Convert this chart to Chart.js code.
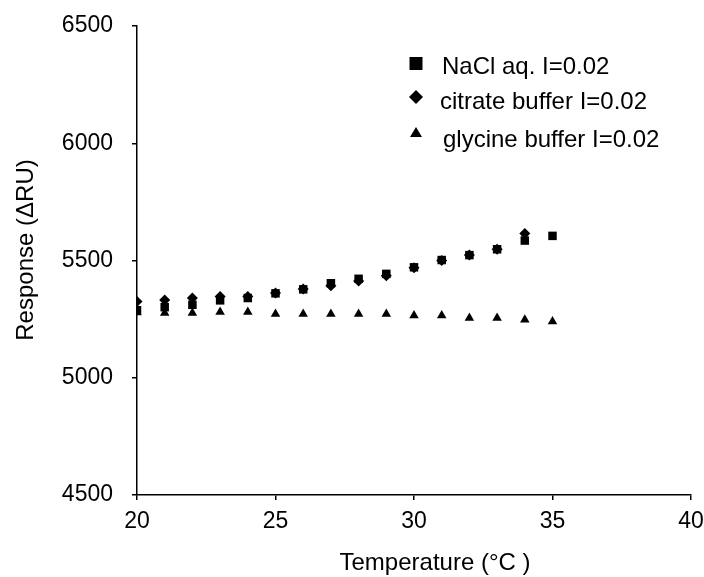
<!DOCTYPE html>
<html>
<head>
<meta charset="utf-8">
<script src="https://cdn.jsdelivr.net/npm/chart.js@4/dist/chart.umd.min.js"></script>
<style>
html,body{margin:0;padding:0;background:#fff;}
#wrap{width:704px;height:577px;position:relative;}
</style>
</head>
<body>
<div id="wrap"><canvas id="c" width="704" height="577"></canvas></div>
<script>
// Data
const temperatures = [20,21,22,23,24,25,26,27,28,29,30,31,32,33,34,35];
const nacl = [5288,5301,5311,5330,5340,5360,5377,5403,5422,5443,5471,5502,5523,5548,5585,5605];
const citrate = [5325,5332,5340,5346,5346,5361,5378,5392,5413,5435,5469,5500,5523,5548,5615];
const glycine = [5278,5276,5276,5280,5280,5272,5272,5272,5272,5272,5265,5265,5255,5255,5247,5240];
const seriesLabels = ['NaCl aq. I=0.02','citrate buffer I=0.02','glycine buffer I=0.02'];
const xTitle = 'Temperature (\u00B0C )';
const yTitle = 'Response (\u0394RU)';

const FONT = '"Liberation Sans", Arial, sans-serif';
const pts = (ys) => ys.map((y,i)=>({x:temperatures[i], y}));

const legendPlugin = {
  id:'customLegend',
  afterDraw(chart){
    const ctx = chart.ctx;
    ctx.save();
    ctx.fillStyle = '#000';
    ctx.font = '24px ' + FONT;
    ctx.textBaseline = 'middle';
    ctx.textAlign = 'left';
    const mx = 416;
    const rows = [
      {y:65, style:'rect', tx:442},
      {y:100, style:'rectRot', tx:440},
      {y:138, style:'triangle', tx:443}
    ];
    rows.forEach((r,i)=>{
      ctx.beginPath();
      if (r.style==='rect'){
        ctx.rect(mx-6.5, r.y-8, 13, 13);
      } else if (r.style==='rectRot'){
        ctx.moveTo(mx, r.y-10); ctx.lineTo(mx+7, r.y-3); ctx.lineTo(mx, r.y+4); ctx.lineTo(mx-7, r.y-3); ctx.closePath();
      } else {
        ctx.moveTo(mx, r.y-11); ctx.lineTo(mx+6, r.y-1); ctx.lineTo(mx-6, r.y-1); ctx.closePath();
      }
      ctx.fill();
      ctx.fillText(seriesLabels[i], r.tx, r.y+2);
    });
    // axis titles
    const ca = chart.chartArea;
    ctx.textAlign = 'center';
    ctx.fillText(xTitle, (ca.left+ca.right)/2 + 21, 563);
    ctx.translate(26, 250);
    ctx.rotate(-Math.PI/2);
    ctx.fillText(yTitle, 0, 0);
    ctx.restore();
  }
};

new Chart(document.getElementById('c'), {
  type:'scatter',
  data:{
    datasets:[
      {label:seriesLabels[0], data:pts(nacl), pointStyle:'rect', pointRadius:6, backgroundColor:'#000', borderColor:'#000', borderWidth:0},
      {label:seriesLabels[1], data:pts(citrate), pointStyle:'rectRot', pointRadius:5.5, backgroundColor:'#000', borderColor:'#000', borderWidth:0},
      {label:seriesLabels[2], data:pts(glycine), pointStyle:'triangle', pointRadius:5.5, backgroundColor:'#000', borderColor:'#000', borderWidth:0}
    ]
  },
  options:{
    responsive:false,
    animation:false,
    events:[],
    layout:{padding:{left:0, right:13, top:26, bottom:0}},
    plugins:{legend:{display:false}, tooltip:{enabled:false}},
    scales:{
      x:{
        type:'linear', min:20, max:40,
        ticks:{stepSize:5, color:'#000', font:{family:FONT, size:23}, padding:8, autoSkip:false, maxRotation:0,
               callback:(v)=>String(v)},
        grid:{display:true, drawOnChartArea:false, drawTicks:true, tickLength:5, color:'#000', lineWidth:1.5},
        border:{display:true, color:'#000', width:1.5},
        afterFit(s){ s.height = 82; s.paddingLeft = 0; s.paddingRight = 0; }
      },
      y:{
        type:'linear', min:4500, max:6500,
        ticks:{stepSize:500, color:'#000', font:{family:FONT, size:23}, padding:19, callback:(v)=>String(v)},
        grid:{display:true, drawOnChartArea:false, drawTicks:true, tickLength:5, color:'#000', lineWidth:1.5},
        border:{display:true, color:'#000', width:1.5},
        afterFit(s){ s.width = 137; s.paddingTop = 0; s.paddingBottom = 0; }
      }
    }
  },
  plugins:[legendPlugin]
});
</script>
</body>
</html>
